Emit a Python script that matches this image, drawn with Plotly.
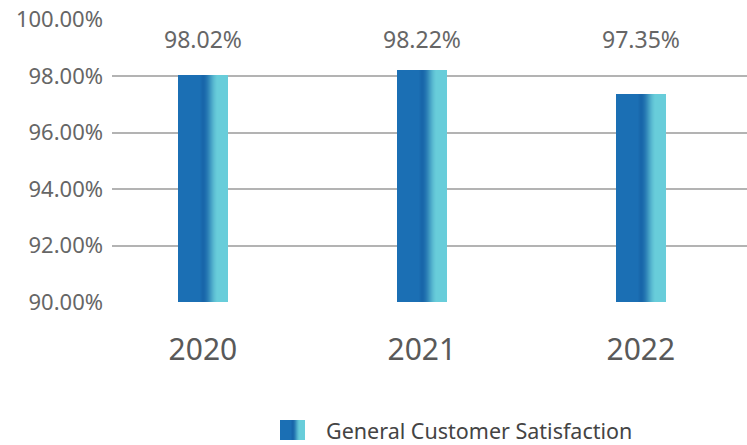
import plotly.graph_objects as go

# Data
years = ["2020", "2021", "2022"]
satisfaction = [98.02, 98.22, 97.35]
series_name = "General Customer Satisfaction"
y_ticks = [90, 92, 94, 96, 98, 100]

# Horizontal gradient of each bar (position across bar -> colour)
dark = (27, 111, 180)
deep = (24, 102, 170)
light = (104, 205, 218)
n_slices = 50
bar_w = 0.228


def mix(a, b, f):
    f = f * f * (3 - 2 * f)  # smoothstep
    return tuple(int(round(a[k] + (b[k] - a[k]) * f)) for k in range(3))


def slice_color(t):
    # solid blue on the left, a slightly deeper band, then a blend to cyan
    if t < 0.42:
        c = dark
    elif t < 0.5:
        c = mix(dark, deep, (t - 0.42) / 0.08)
    elif t < 0.8:
        c = mix(deep, light, (t - 0.5) / 0.3)
    else:
        c = light
    return "rgb(%d,%d,%d)" % c


idx = list(range(len(years)))

fig = go.Figure()
# each slice runs from its start to the bar's right edge; later slices paint over
for i in range(n_slices):
    t = (i + 0.5) / n_slices
    start = -bar_w / 2 + i * bar_w / n_slices
    fig.add_trace(go.Bar(
        x=idx, y=satisfaction,
        width=[bar_w / 2 - start] * len(idx),
        offset=[start] * len(idx),
        marker=dict(color=slice_color(t), line=dict(width=0)),
        showlegend=False, hoverinfo="skip",
    ))

# Value labels above each bar
for k, v in zip(idx, satisfaction):
    fig.add_annotation(x=k, y=99.31, text=f"{v:.2f}%", showarrow=False,
                       font=dict(size=23, color="#666666"))

# Legend swatch (gradient) and label
W, H = 747, 445
L, T, B = 112, 19, 143
PW, PH = W - L, H - T - B
sw_x0, sw_x1, sw_y0, sw_y1 = 280, 305, 420, 440
n_sw = 25
for i in range(n_sw):
    t = (i + 0.5) / n_sw
    x0 = sw_x0 + (sw_x1 - sw_x0) * i / n_sw
    fig.add_shape(type="rect", xref="paper", yref="paper",
                  x0=(x0 - L) / PW, x1=(sw_x1 - L) / PW,
                  y0=-(sw_y1 - (T + PH)) / PH, y1=-(sw_y0 - (T + PH)) / PH,
                  line=dict(width=0), fillcolor=slice_color(t))
fig.add_annotation(xref="paper", yref="paper",
                   x=(325 - L) / PW, y=-(430 - (T + PH)) / PH,
                   xanchor="left", yanchor="middle", showarrow=False,
                   borderpad=0,
                   text=series_name, font=dict(size=21.5, color="#444444"))

fig.update_layout(
    width=W, height=H,
    margin=dict(l=L, r=0, t=T, b=B),
    paper_bgcolor="white", plot_bgcolor="white",
    barmode="overlay", bargap=0,
    font=dict(family="Noto Sans, Open Sans, sans-serif", color="#666666"),
    showlegend=False,
    xaxis=dict(range=[-0.415, 2.485], tickvals=idx, ticktext=years,
               showgrid=False, showline=False, zeroline=False,
               ticks="", tickfont=dict(size=30, color="#595959"),
               ticklabelstandoff=27, fixedrange=True),
    yaxis=dict(range=[90, 100.02], tickvals=y_ticks,
               ticktext=[f"{v:.2f}%" for v in y_ticks],
               showgrid=True, gridcolor="#b3b3b3", gridwidth=1.5,
               zeroline=False, showline=False, ticks="",
               tickfont=dict(size=22, color="#666666"),
               ticklabelstandoff=8, fixedrange=True),
)

fig.write_html("out.html")
